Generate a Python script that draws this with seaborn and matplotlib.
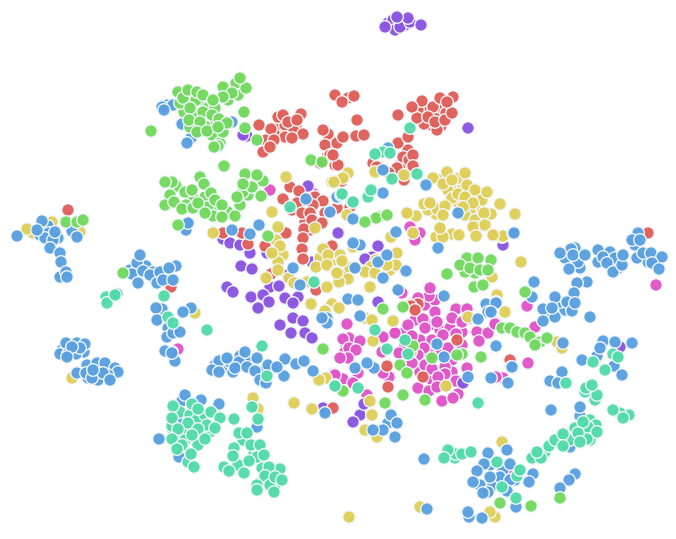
import pandas as pd
import matplotlib.pyplot as plt
import seaborn as sns

# positions, one list per cluster colour
magenta_pts = [(402,293),(429,296),(430,288),(418,298),(347,324),(408,325),(423,319),(435,312),(437,322),(456,309),
    (467,309),(452,318),(462,322),(425,328),(443,335),(456,334),(477,332),(488,333),(479,341),(496,323),
    (394,333),(382,338),(412,336),(349,338),(343,339),(360,341),(349,348),(356,350),(348,358),(340,358),
    (382,352),(399,353),(424,348),(448,348),(418,355),(412,363),(425,365),(432,369),(445,367),(445,374),
    (467,368),(438,377),(389,377),(358,373),(343,379),(353,383),(334,374),(383,373),(418,388),(429,391),
    (437,387),(456,381),(458,394),(442,401),(453,398),(503,378),(496,377),(367,395),(270,190),(314,194),
    (395,333),(383,337),(420,233),(410,227),(415,240),(527,306),(535,327),(656,285),(528,363),(495,324),
    (178,349),(335,375),(507,471)]
purple_pts = [(308,186),(338,233),(223,239),(230,243),(240,245),(250,253),(267,253),(241,266),(252,269),(227,287),
    (233,292),(270,287),(279,286),(288,275),(251,297),(263,295),(269,302),(258,308),(285,298),(298,297),
    (293,303),(293,318),(303,321),(280,325),(291,333),(305,333),(312,338),(378,246),(372,257),(365,259),
    (378,302),(312,262),(468,128),(503,245),(247,136),(243,135),(323,408),(360,415),(353,422),(364,404),
    (463,383),(620,347),(388,23),(393,20),(400,20),(405,25),(395,30),(400,27),(410,22),(421,25),
    (385,27),(408,18),(397,17)]
red_pts = [(259,125),(271,129),(278,117),(283,115),(301,114),(294,131),(285,137),(274,140),(263,152),(270,147),
    (288,122),(297,120),(303,134),(292,138),(335,95),(328,134),(325,145),(323,130),(335,165),(327,157),
    (320,163),(330,155),(337,143),(348,98),(354,96),(342,102),(357,120),(343,137),(356,136),(364,135),
    (398,115),(422,101),(433,107),(453,97),(440,98),(446,113),(417,118),(412,107),(437,130),(428,117),
    (435,122),(445,120),(452,113),(447,102),(398,143),(408,137),(403,157),(409,160),(413,155),(413,166),
    (397,168),(389,173),(373,163),(404,180),(377,167),(338,165),(342,180),(333,155),(337,208),(350,207),
    (290,187),(299,191),(283,199),(297,203),(302,213),(323,201),(313,205),(310,213),(342,181),(325,213),
    (312,220),(322,223),(304,229),(286,233),(303,238),(302,249),(303,259),(265,246),(248,244),(242,233),
    (223,233),(332,246),(271,274),(316,290),(348,273),(410,305),(418,304),(411,306),(415,310),(387,366),
    (388,387),(423,377),(333,408),(510,360),(457,340),(496,483),(68,210),(171,287),(648,233)]
yellow_pts = [(375,172),(404,175),(433,178),(443,184),(447,172),(459,178),(465,173),(452,180),(467,185),(458,194),
    (475,190),(465,197),(482,200),(487,192),(500,204),(473,203),(491,214),(484,213),(515,214),(424,204),
    (437,209),(445,206),(430,203),(443,215),(463,207),(407,214),(416,216),(478,227),(473,227),(485,225),
    (493,234),(502,237),(476,236),(452,234),(459,235),(436,237),(443,237),(440,228),(413,233),(391,237),
    (353,247),(347,215),(348,173),(343,178),(332,182),(286,177),(334,182),(272,212),(407,213),(213,233),
    (278,227),(315,228),(280,246),(323,249),(278,262),(272,253),(278,270),(328,255),(342,261),(316,267),
    (327,265),(397,253),(396,265),(387,265),(371,267),(365,272),(375,273),(336,272),(348,279),(339,282),
    (327,287),(370,287),(289,278),(294,283),(307,282),(266,278),(311,304),(332,304),(326,311),(339,308),
    (365,318),(372,320),(393,321),(337,273),(492,277),(497,295),(325,311),(373,341),(411,352),(446,386),
    (325,378),(370,401),(365,430),(377,437),(372,415),(505,312),(468,317),(294,403),(312,409),(326,378),
    (319,380),(253,398),(258,409),(502,442),(495,517),(490,512),(420,507),(521,262),(503,236),(493,235),
    (33,233),(52,222),(27,229),(80,232),(195,313),(72,378),(557,342),(562,348),(349,517)]
blue_pts = [(17,236),(49,233),(42,221),(45,238),(53,240),(37,230),(72,231),(55,232),(77,237),(50,248),
    (60,253),(61,262),(60,277),(66,272),(67,277),(137,263),(140,255),(132,274),(138,283),(143,271),
    (153,272),(150,275),(160,272),(157,283),(163,280),(173,280),(176,266),(169,268),(117,294),(162,309),
    (156,308),(157,320),(168,328),(167,337),(173,333),(180,332),(172,352),(175,361),(165,351),(191,308),
    (183,312),(189,223),(186,230),(66,343),(77,343),(85,344),(60,354),(68,354),(76,354),(80,348),
    (72,347),(67,357),(77,373),(87,365),(97,363),(105,363),(115,368),(118,372),(108,375),(98,380),
    (86,373),(92,378),(103,373),(93,370),(110,380),(167,105),(162,107),(173,105),(164,110),(182,124),
    (191,138),(187,143),(232,122),(188,223),(259,225),(232,230),(426,185),(383,193),(458,213),(513,233),
    (388,148),(383,170),(338,198),(353,219),(396,232),(438,248),(360,245),(306,199),(337,197),(250,234),
    (330,212),(353,243),(378,262),(387,255),(383,278),(293,268),(355,268),(300,285),(348,299),(358,300),
    (327,318),(327,323),(398,290),(406,271),(444,296),(496,302),(486,304),(488,312),(478,319),(360,316),
    (496,346),(437,344),(444,357),(468,377),(511,367),(508,383),(491,378),(374,368),(367,363),(355,368),
    (325,413),(388,423),(391,415),(397,423),(395,437),(383,430),(373,430),(322,318),(172,353),(219,361),
    (212,370),(219,372),(227,358),(233,372),(239,362),(235,368),(245,352),(247,367),(257,358),(255,371),
    (268,365),(260,380),(285,359),(296,364),(284,376),(304,361),(313,371),(277,367),(266,383),(182,401),
    (201,400),(219,404),(185,395),(178,419),(178,438),(159,439),(172,428),(179,457),(257,427),(551,410),
    (580,416),(580,407),(570,447),(424,459),(427,509),(469,517),(468,512),(482,518),(507,450),(488,453),
    (484,464),(477,471),(473,482),(488,492),(483,493),(500,477),(510,464),(533,474),(529,482),(510,480),
    (507,491),(516,507),(490,477),(575,474),(569,480),(560,488),(571,249),(560,253),(578,262),(569,269),
    (573,255),(585,255),(598,250),(603,257),(615,258),(607,263),(613,272),(622,265),(623,255),(638,233),
    (632,240),(640,240),(637,258),(643,253),(651,253),(662,257),(652,263),(659,269),(514,233),(534,282),
    (532,297),(587,282),(577,283),(574,293),(555,297),(543,309),(555,317),(543,321),(552,308),(567,302),
    (572,311),(575,303),(590,317),(563,343),(603,341),(615,342),(632,343),(597,356),(600,348),(582,360),
    (614,366),(622,375),(562,372),(550,381),(558,383),(512,367),(496,303),(491,312)]
green_pts = [(236,83),(246,88),(240,78),(223,87),(232,93),(223,97),(178,92),(183,98),(188,90),(196,100),
    (197,92),(203,95),(213,100),(190,108),(203,112),(212,115),(219,119),(189,120),(200,122),(197,132),
    (207,131),(223,132),(227,123),(218,127),(244,112),(151,131),(218,146),(214,147),(245,128),(257,140),
    (224,166),(311,160),(322,162),(245,174),(263,181),(257,175),(172,182),(165,182),(200,177),(204,184),
    (185,192),(192,190),(211,193),(165,205),(174,202),(182,209),(193,208),(198,203),(215,200),(222,205),
    (213,216),(222,217),(235,216),(243,192),(237,197),(252,187),(243,184),(261,196),(205,213),(178,225),
    (379,217),(376,218),(387,215),(365,222),(268,236),(383,309),(403,307),(475,273),(474,287),(447,274),
    (465,272),(483,285),(323,349),(413,346),(432,358),(462,354),(457,355),(481,357),(400,365),(407,373),
    (403,395),(385,403),(343,391),(425,400),(502,328),(510,328),(517,332),(525,292),(525,333),(530,337),
    (540,342),(535,345),(547,338),(491,260),(66,222),(77,222),(83,220),(123,273),(500,503),(531,506),
    (560,498),(467,258),(478,258),(460,265),(470,268),(480,270),(488,270)]
mint_pts = [(262,346),(267,376),(192,404),(173,406),(198,409),(211,412),(220,418),(188,423),(207,425),(215,428),
    (198,429),(192,435),(205,439),(172,418),(178,429),(172,439),(182,445),(177,449),(191,454),(194,467),
    (234,419),(239,433),(247,433),(252,407),(258,419),(234,448),(233,456),(224,467),(229,471),(251,445),
    (260,445),(257,457),(264,455),(249,461),(244,473),(280,469),(269,467),(265,476),(270,485),(257,485),
    (275,477),(282,480),(274,492),(257,490),(335,385),(375,330),(335,386),(358,388),(478,403),(405,340),
    (387,349),(408,354),(383,152),(375,154),(390,153),(417,174),(392,179),(368,197),(371,190),(410,128),
    (341,195),(352,202),(290,207),(314,282),(342,194),(353,202),(456,454),(448,450),(444,458),(462,454),
    (471,452),(497,462),(517,476),(520,470),(502,487),(516,498),(532,458),(541,458),(537,452),(549,446),
    (555,440),(563,434),(563,446),(588,427),(583,422),(597,432),(587,439),(578,433),(580,442),(595,400),
    (585,392),(597,395),(629,415),(620,413),(613,410),(623,418),(613,354),(605,370),(593,362),(618,357),
    (566,383),(586,388),(592,385),(106,297),(107,303),(115,295),(164,296),(168,317),(173,323),(207,330)]

# points mostly hidden under the ones above, they fill out the dense clumps
green_under = [(193,96),(200,104),(208,108),(195,112),(207,120),(213,124),(205,126),(195,116),(184,112),(215,108),
    (188,100),(228,100),(238,95),(200,130),(212,135),(190,127),(176,186),(193,198),(205,197),(218,210),
    (228,212),(208,207),(186,205),(170,195),(240,205),(248,195),(220,143),(228,90)]
red_under = [(280,125),(290,128),(275,135),(285,125),(296,125),(266,140),(430,112),(438,112),(425,108),(442,108),
    (431,125),(418,110),(424,124),(441,126),(330,140),(332,150),(305,200),(315,197),(305,222),(292,210),
    (310,230),(400,165),(408,150)]
yellow_under = [(455,185),(448,190),(462,190),(470,195),(478,195),(458,202),(452,198),(480,208),(470,210),(436,214),
    (428,210),(448,178),(440,180),(465,215),(475,220),(340,255),(334,265),(320,258),(350,268),(276,240),
    (283,255),(376,260),(390,270)]
blue_under = [(40,235),(48,226),(58,238),(130,270),(146,266),(165,275),(70,350),(84,352),(62,350),(96,370),
    (104,370),(88,378),(112,372),(100,378),(215,365),(225,368),(230,362),(240,356),(250,362),(262,372),
    (272,368),(565,258),(575,248),(580,268),(600,258),(610,252),(618,268),(598,262),(612,262),(635,245),
    (648,262),(655,262),(565,310),(560,302),(548,314),(480,485),(493,485),(503,470),(490,465),(515,480)]
green_mid = [(180,103),(192,104)]
mint_under = [(180,412),(190,415),(200,418),(183,430),(197,420),(210,432),(185,440),(172,426),(198,445),(205,415),
    (188,462),(243,440),(238,465),(254,452),(262,468),(275,485),(268,480),(585,430),(592,428),(575,428),
    (590,420),(582,435),(596,425),(590,440),(452,452),(455,458),(535,458),(545,452),(570,440)]
magenta_under = [(415,320),(430,325),(440,330),(420,340),(432,340),(450,328),(462,332),(470,318),(405,345),(440,355),
    (430,355),(452,360),(420,372),(432,380),(445,385),(452,372),(346,345),(352,342),(345,352),(405,332),
    (425,305),(435,300),(462,345)]
magenta_pts = magenta_under + magenta_pts
red_pts = red_under + red_pts
yellow_pts = yellow_under + yellow_pts
blue_pts = blue_under + blue_pts
green_pts = green_under + green_mid + green_pts
mint_pts = mint_under + mint_pts

# order matters here, later groups are drawn on top
groups = ['magenta', 'purple', 'red', 'yellow', 'blue', 'green', 'mint']
group_pts = [magenta_pts, purple_pts, red_pts, yellow_pts, blue_pts, green_pts, mint_pts]
colors = {'magenta': '#E055C8', 'purple': '#8A55E0', 'red': '#E0605A', 'yellow': '#DFCF58',
          'blue': '#5AA0E0', 'green': '#72D95E', 'mint': '#52DBA8'}

rows = []
for name, pts in zip(groups, group_pts):
    for x, y in pts:
        rows.append({'x': x, 'y': y, 'group': name})
df = pd.DataFrame(rows)

sns.set_style('white')
fig = plt.figure(figsize=(6.76, 5.39), dpi=100)
ax = fig.add_axes([0, 0, 1, 1])
sns.scatterplot(data=df, x='x', y='y', hue='group', palette=colors, s=82,
                edgecolor='#F4F8FC', linewidth=1.0, alpha=0.97, legend=False, ax=ax)
ax.set_xlim(0, 676)
ax.set_ylim(539, 0)
ax.set_axis_off()
fig.savefig('out.png', dpi=100)
